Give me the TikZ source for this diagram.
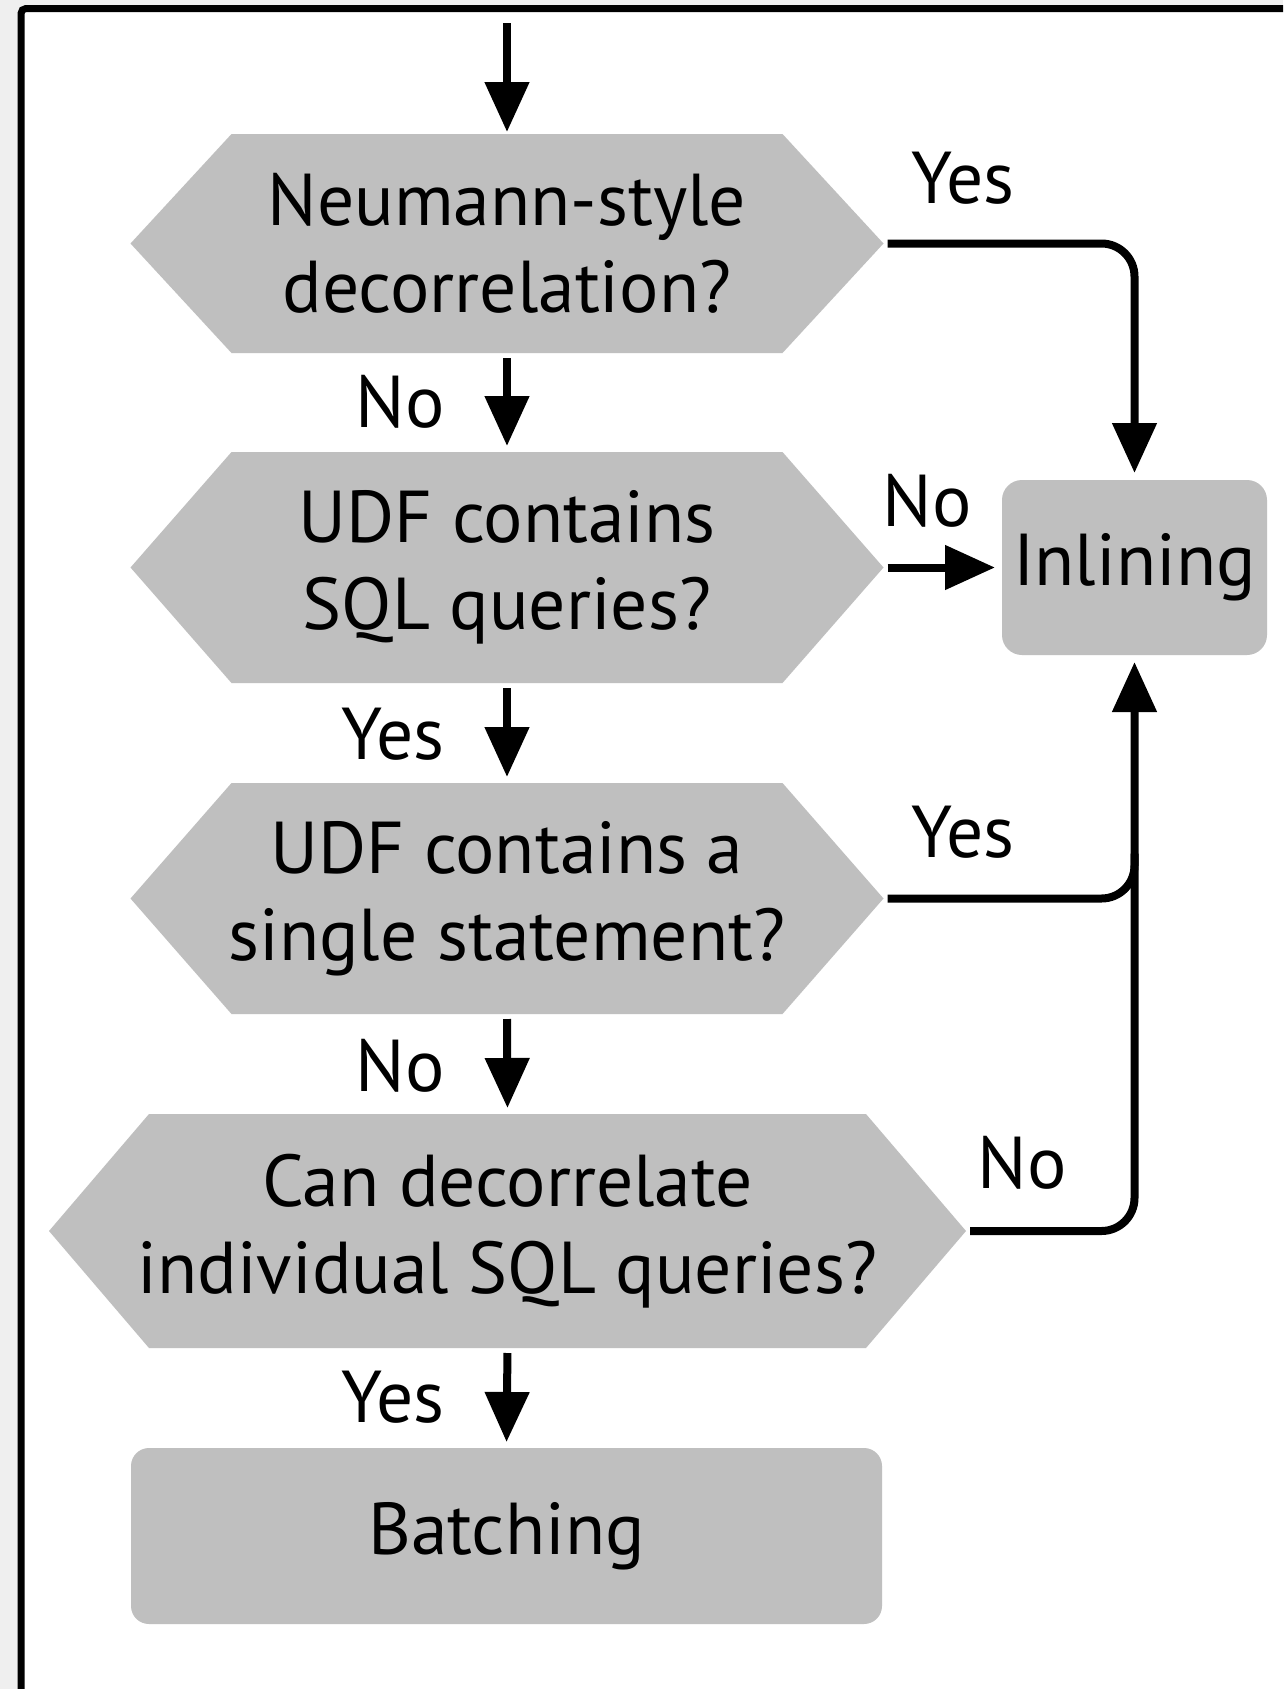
\documentclass[tikz,border=0pt]{standalone}
\usepackage{fontspec}
\setmainfont{PT Sans}
\usetikzlibrary{arrows.meta,calc}
\definecolor{boxgray}{HTML}{BFBFBF}
\definecolor{outergray}{HTML}{EFEFEF}
\newcommand{\lblfont}{\fontsize{73.5}{87}\selectfont}
\tikzset{
  hexa/.style={rectangle, inner sep=0pt, outer sep=0pt, align=center, font=\lblfont,
    path picture={\fill[boxgray] (path picture bounding box.west)
      -- ($(path picture bounding box.north west)+(#1,0)$)
      -- ($(path picture bounding box.north east)+(-#1,0)$)
      -- (path picture bounding box.east)
      -- ($(path picture bounding box.south east)+(-#1,0)$)
      -- ($(path picture bounding box.south west)+(#1,0)$) -- cycle;}},
  rbox/.style={rectangle, fill=boxgray, rounded corners=20pt, inner sep=0pt, outer sep=0pt, align=center, font=\lblfont},
  lbl/.style={inner sep=0pt, font=\lblfont},
  conn/.style={line width=8pt, -{Triangle[length=50pt,width=43pt]}, shorten <=5pt, shorten >=6pt},
  link/.style={line width=8pt, rounded corners=33pt},
}
\begin{document}
\begin{tikzpicture}[x=1pt,y=-1pt]
\useasboundingbox (0,0) rectangle (1283,1689);
\fill[outergray] (0,0) rectangle (1283,1689);
\begin{scope}
\clip (0,0) rectangle (1283,1689);
\draw[line width=7pt, rounded corners=5pt, fill=white] (21,8.5) rectangle (1400,1800);
\end{scope}

\node[hexa=101, minimum width=753pt, minimum height=219pt] (h1) at (507,243.5) {Neumann-style\\decorrelation?};
\node[hexa=101, minimum width=753pt, minimum height=231pt] (h2) at (507,567.5) {UDF contains\\SQL queries?};
\node[hexa=101, minimum width=753pt, minimum height=231pt] (h3) at (507,898.5) {UDF contains a\\single statement?};
\node[hexa=100, minimum width=917pt, minimum height=234pt] (h4) at (507.5,1231) {Can decorrelate\\individual SQL queries?};
\node[rbox, rounded corners=18pt, minimum width=751pt, minimum height=176pt] (bat) at (506.5,1536) {Batching};
\node[rbox, minimum width=265pt, minimum height=175pt] (inl) at (1134.5,567.5) {Inlining};
\coordinate (start) at (507,23);

\draw[conn, shorten <=0pt, shorten >=2pt] (start) -- (h1.north);
\draw[conn] (h1.south) -- (h2.north);
\draw[conn] (h2.south) -- (h3.north);
\draw[conn] (h3.south) -- (h4.north);
\draw[conn] (h4.south) -- (bat.north);

\draw[conn, rounded corners=33pt, shorten <=4pt, shorten >=7pt] (h1.east) -- (h1.east -| inl.north) -- (inl.north);
\draw[conn, shorten <=4pt, shorten >=7pt] (h2.east) -- (inl.west);
\draw[link, shorten <=4pt] (h3.east) -- (h3.east -| inl.south) -- ($(h3.east -| inl.south)+(0,-45)$);
\draw[conn, rounded corners=33pt, shorten <=4pt, shorten >=7pt] (h4.east) -- (h4.east -| inl.south) -- (inl.south);

\node[lbl] (l1) at (963,178) {Yes};
\node[lbl] (l2) at (927,501) {No};
\node[lbl] (l3) at (963,832) {Yes};
\node[lbl] (l4) at (1022,1163) {No};
\node[lbl] (l5) at (400,402) {No};
\node[lbl] (l6) at (393,734) {Yes};
\node[lbl] (l7) at (400,1066) {No};
\node[lbl] (l8) at (393,1397) {Yes};
\end{tikzpicture}
\end{document}
